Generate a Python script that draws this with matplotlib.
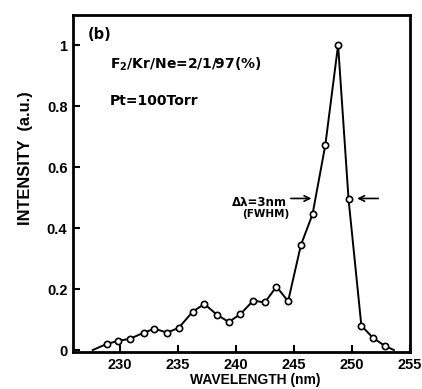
import matplotlib
matplotlib.use("Agg")
import matplotlib.pyplot as plt

plt.rcParams['font.family'] = ['Liberation Sans', 'DejaVu Sans']
plt.rcParams['font.weight'] = 'bold'
plt.rcParams['mathtext.fontset'] = 'dejavusans'

# KrF emission spectrum (wavelength in nm, normalised intensity)
wavelength = [227.7, 228.9, 229.9, 230.9, 232.1, 233.0, 234.1, 235.1, 236.3, 237.3,
              238.4, 239.4, 240.4, 241.5, 242.5, 243.5, 244.5, 245.6, 246.6, 247.7,
              248.8, 249.7, 250.8, 251.8, 252.8, 253.6]
intensity = [0.0, 0.02, 0.03, 0.037, 0.057, 0.07, 0.057, 0.073, 0.126, 0.151,
             0.115, 0.092, 0.118, 0.162, 0.156, 0.208, 0.16, 0.344, 0.445, 0.672,
             1.0, 0.494, 0.08, 0.04, 0.014, 0.0]

x_ticks = [230, 235, 240, 245, 250, 255]
y_ticks = [0, 0.2, 0.4, 0.6, 0.8, 1.0]
y_tick_labels = ["0", "0.2", "0.4", "0.6", "0.8", "1"]

fig = plt.figure(figsize=(4.22, 3.89), dpi=100)
ax = fig.add_axes([0.173, 0.095, 0.799, 0.866])

ax.plot(wavelength, intensity, color='black', lw=1.4,
        marker='o', ms=4.5, mfc='white', mec='black', mew=1.2,
        markevery=list(range(1, len(wavelength) - 1)))

ax.set_xlim(226, 255)
ax.set_ylim(-0.0066, 1.098)
ax.set_xticks(x_ticks)
ax.set_yticks(y_ticks)
ax.set_yticklabels(y_tick_labels)
ax.tick_params(direction='in', length=5, width=1.5, labelsize=10.5, pad=4)
for lbl in ax.get_xticklabels() + ax.get_yticklabels():
    lbl.set_fontweight('bold')
for s in ax.spines.values():
    s.set_linewidth(2)

ax.set_xlabel("WAVELENGTH (nm)", fontsize=10, fontweight='bold')
ax.xaxis.set_label_coords(0.54, -0.063)
ax.set_ylabel("INTENSITY  (a.u.)", fontsize=11.8, fontweight='bold')
ax.yaxis.set_label_coords(-0.118, 0.575)

inner = ['DejaVu Sans']
ax.text(0.045, 0.965, "(b)", transform=ax.transAxes, fontsize=10.5,
        family=inner, fontweight='bold', va='top', ha='left')
ax.text(0.11, 0.855, "F$_\\mathbf{2}$/Kr/Ne=2/1/97(%)", transform=ax.transAxes,
        fontsize=10, family=inner, fontweight='bold', va='center', ha='left')
ax.text(0.11, 0.745, "Pt=100Torr", transform=ax.transAxes,
        fontsize=10, family=inner, fontweight='bold', va='center', ha='left')

# FWHM markers
ax.annotate("", xy=(246.75, 0.497), xytext=(244.5, 0.497),
            arrowprops=dict(arrowstyle='->', color='black', lw=1.2))
ax.annotate("", xy=(250.2, 0.497), xytext=(252.5, 0.497),
            arrowprops=dict(arrowstyle='->', color='black', lw=1.2))
ax.text(242.0, 0.483, "Δλ=3nm", fontsize=8.5, family=inner, fontweight='bold',
        ha='center', va='center')
ax.text(242.6, 0.447, "(FWHM)", fontsize=7.5, family=inner, fontweight='bold',
        ha='center', va='center')

fig.savefig("out.png", dpi=100)
